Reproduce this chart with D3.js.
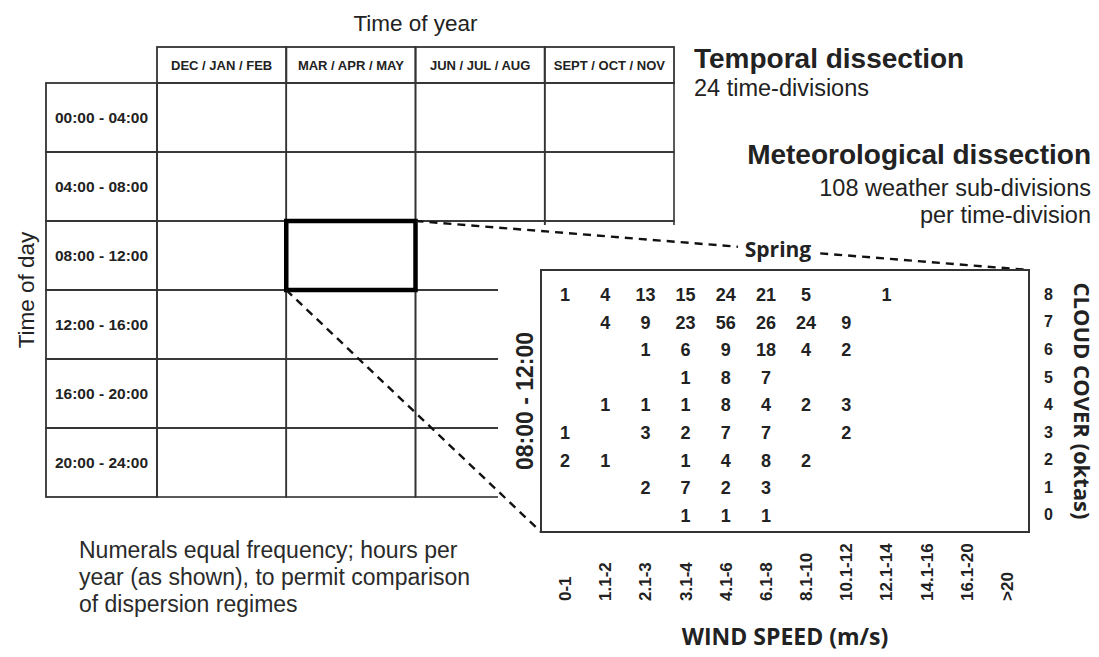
<!DOCTYPE html>
<html>
<head>
<meta charset="utf-8">
<script src="https://cdn.jsdelivr.net/npm/d3@7"></script>
<style>
  body { margin: 0; background: #fff; }
  svg { display: block; }
  text { fill: #222; }
</style>
</head>
<body>
<div id="chart"></div>
<script>
// season columns and time-of-day rows of the overview grid
const seasons = ["DEC / JAN / FEB", "MAR / APR / MAY", "JUN / JUL / AUG", "SEPT / OCT / NOV"];
const timesOfDay = ["00:00 - 04:00", "04:00 - 08:00", "08:00 - 12:00", "12:00 - 16:00", "16:00 - 20:00", "20:00 - 24:00"];
const selectedSeason = "MAR / APR / MAY";
const selectedTime = "08:00 - 12:00";

// detail panel: wind speed classes (m/s) and cloud cover (oktas)
const windSpeeds = ["0-1", "1.1-2", "2.1-3", "3.1-4", "4.1-6", "6.1-8", "8.1-10", "10.1-12", "12.1-14", "14.1-16", "16.1-20", ">20"];
const cloudCover = [8, 7, 6, 5, 4, 3, 2, 1, 0];

// hours per year, one list per cloud cover row (top = 8 oktas), null = empty
const hours8 = [1, 4, 13, 15, 24, 21, 5, null, 1, null, null, null];
const hours7 = [null, 4, 9, 23, 56, 26, 24, 9, null, null, null, null];
const hours6 = [null, null, 1, 6, 9, 18, 4, 2, null, null, null, null];
const hours5 = [null, null, null, 1, 8, 7, null, null, null, null, null, null];
const hours4 = [null, 1, 1, 1, 8, 4, 2, 3, null, null, null, null];
const hours3 = [1, null, 3, 2, 7, 7, null, 2, null, null, null, null];
const hours2 = [2, 1, null, 1, 4, 8, 2, null, null, null, null, null];
const hours1 = [null, null, 2, 7, 2, 3, null, null, null, null, null, null];
const hours0 = [null, null, null, 1, 1, 1, null, null, null, null, null, null];
const hoursByCloud = [hours8, hours7, hours6, hours5, hours4, hours3, hours2, hours1, hours0];

const W = 1099, H = 657;
const lineCol = "#333";
const sans = "'Liberation Sans', Arial, sans-serif";
const open = "'Open Sans', sans-serif";

const svg = d3.select("#chart").append("svg")
  .attr("width", W)
  .attr("height", H);

/** overview grid */
const xSeason = d3.scaleBand().domain(seasons).range([157, 674]);
const yTime = d3.scaleBand().domain(timesOfDay).range([83, 497]);
const headTop = 47, labelLeft = 46;

const grid = svg.append("g").attr("id", "grid");

// header cells
grid.selectAll("rect.head")
  .data(seasons)
  .enter()
  .append("rect")
  .attr("class", "head")
  .attr("x", d => xSeason(d))
  .attr("y", headTop)
  .attr("width", xSeason.bandwidth())
  .attr("height", yTime.range()[0] - headTop)
  .attr("fill", "none")
  .attr("stroke", lineCol)
  .attr("stroke-width", 1.8);

grid.selectAll("text.head")
  .data(seasons)
  .enter()
  .append("text")
  .attr("x", d => xSeason(d) + xSeason.bandwidth() / 2)
  .attr("y", (headTop + yTime.range()[0]) / 2)
  .attr("dy", "0.35em")
  .style("text-anchor", "middle")
  .style("font-family", sans)
  .style("font-weight", "bold")
  .style("font-size", "13px")
  .text(d => d);

// body cells
timesOfDay.forEach(t => {
  grid.append("rect")
    .attr("x", labelLeft)
    .attr("y", yTime(t))
    .attr("width", xSeason.range()[0] - labelLeft)
    .attr("height", yTime.bandwidth())
    .attr("fill", "none")
    .attr("stroke", lineCol)
    .attr("stroke-width", 1.8);
  grid.append("text")
    .attr("x", (labelLeft + xSeason.range()[0]) / 2)
    .attr("y", yTime(t) + yTime.bandwidth() / 2)
    .attr("dy", "0.35em")
    .style("text-anchor", "middle")
    .style("font-family", sans)
    .style("font-weight", "bold")
    .style("font-size", "15.5px")
    .text(t);
  seasons.forEach(s => {
    grid.append("rect")
      .attr("x", xSeason(s))
      .attr("y", yTime(t))
      .attr("width", xSeason.bandwidth())
      .attr("height", yTime.bandwidth())
      .attr("fill", "none")
      .attr("stroke", lineCol)
      .attr("stroke-width", 1.6);
  });
});

// axis titles of the grid
svg.append("text")
  .attr("x", (xSeason.range()[0] + xSeason.range()[1]) / 2)
  .attr("y", 31)
  .style("text-anchor", "middle")
  .style("font-family", sans)
  .style("font-size", "22.5px")
  .text("Time of year");

svg.append("text")
  .attr("x", 34)
  .attr("y", (yTime.range()[0] + yTime.range()[1]) / 2)
  .attr("transform", "rotate(-90 34 " + ((yTime.range()[0] + yTime.range()[1]) / 2) + ")")
  .style("text-anchor", "middle")
  .style("font-family", sans)
  .style("font-size", "22.5px")
  .text("Time of day");

// white panel that hides the right part of the lower grid
svg.append("rect")
  .attr("x", 498)
  .attr("y", 225)
  .attr("width", W - 498)
  .attr("height", H - 225)
  .attr("fill", "#fff");

// highlighted cell
const hx = xSeason(selectedSeason), hy = yTime(selectedTime);
svg.append("rect")
  .attr("x", hx)
  .attr("y", hy)
  .attr("width", xSeason.bandwidth())
  .attr("height", yTime.bandwidth())
  .attr("fill", "none")
  .attr("stroke", "#000")
  .attr("stroke-width", 4.5);

/** detail panel */
const box = {left: 541, right: 1029, top: 270, bottom: 532};
const xWind = d3.scaleBand().domain(windSpeeds).range([545, 1027]);
const yCloud = d3.scaleBand().domain(cloudCover).range([281, 529]);

// dashed zoom lines
const dash = svg.append("g")
  .attr("stroke", "#111")
  .attr("stroke-width", 2.4)
  .attr("stroke-dasharray", "8,6");
dash.append("line")
  .attr("x1", hx + xSeason.bandwidth()).attr("y1", hy)
  .attr("x2", box.right).attr("y2", box.top);
dash.append("line")
  .attr("x1", hx).attr("y1", hy + yTime.bandwidth())
  .attr("x2", box.left).attr("y2", box.bottom);

// Spring label sitting on the upper dashed line
const springX = 778;
const springY = hy + (box.top - hy) * (springX - hx - xSeason.bandwidth()) / (box.right - hx - xSeason.bandwidth());
svg.append("rect")
  .attr("x", springX - 40)
  .attr("y", springY - 14)
  .attr("width", 80)
  .attr("height", 26)
  .attr("fill", "#fff");
svg.append("text")
  .attr("x", springX)
  .attr("y", springY)
  .attr("dy", "0.32em")
  .style("text-anchor", "middle")
  .style("font-family", open)
  .style("font-weight", "bold")
  .style("font-size", "21px")
  .text("Spring");

svg.append("rect")
  .attr("x", box.left)
  .attr("y", box.top)
  .attr("width", box.right - box.left)
  .attr("height", box.bottom - box.top)
  .attr("fill", "#fff")
  .attr("stroke", lineCol)
  .attr("stroke-width", 2);

// frequency numerals
const cells = [];
hoursByCloud.forEach((row, i) => {
  row.forEach((v, j) => {
    if (v !== null) cells.push({cloud: cloudCover[i], wind: windSpeeds[j], v: v});
  });
});

svg.append("g")
  .selectAll("text")
  .data(cells)
  .enter()
  .append("text")
  .attr("x", d => xWind(d.wind) + xWind.bandwidth() / 2)
  .attr("y", d => yCloud(d.cloud) + yCloud.bandwidth() / 2)
  .attr("dy", "0.36em")
  .style("text-anchor", "middle")
  .style("font-family", sans)
  .style("font-weight", "bold")
  .style("font-size", "18px")
  .text(d => d.v);

// wind speed axis
const xAxis = svg.append("g")
  .attr("transform", "translate(0,601)")
  .call(d3.axisBottom(xWind).tickSize(0));
xAxis.select(".domain").remove();
xAxis.selectAll("text")
  .attr("x", 0)
  .attr("y", 0)
  .attr("dy", "0.35em")
  .attr("transform", "rotate(-90)")
  .style("text-anchor", "start")
  .style("font-family", sans)
  .style("font-weight", "bold")
  .style("font-size", "17px")
  .style("fill", "#222");

// cloud cover axis
const yAxis = svg.append("g")
  .attr("transform", "translate(1044,0)")
  .call(d3.axisRight(yCloud).tickSize(0));
yAxis.select(".domain").remove();
yAxis.selectAll("text")
  .attr("x", 0)
  .style("font-family", sans)
  .style("font-weight", "bold")
  .style("font-size", "16px")
  .style("fill", "#222");

svg.append("text")
  .attr("x", (box.left + box.right) / 2)
  .attr("y", 645)
  .style("text-anchor", "middle")
  .style("font-family", open)
  .style("font-weight", "bold")
  .style("font-size", "23px")
  .text("WIND SPEED (m/s)");

const ccY = (box.top + box.bottom) / 2;
svg.append("text")
  .attr("x", 1074)
  .attr("y", ccY)
  .attr("transform", "rotate(90 1074 " + ccY + ")")
  .style("text-anchor", "middle")
  .style("font-family", open)
  .style("font-weight", "bold")
  .style("font-size", "22px")
  .text("CLOUD COVER (oktas)");

svg.append("text")
  .attr("x", 533)
  .attr("y", ccY)
  .attr("transform", "rotate(-90 533 " + ccY + ")")
  .style("text-anchor", "middle")
  .style("font-family", sans)
  .style("font-weight", "bold")
  .style("font-size", "23px")
  .text(selectedTime);

/** side notes */
svg.append("text")
  .attr("x", 694).attr("y", 68)
  .style("font-family", sans).style("font-weight", "bold").style("font-size", "28px")
  .text("Temporal dissection");
svg.append("text")
  .attr("x", 694).attr("y", 96)
  .style("font-family", sans).style("font-size", "23.5px")
  .text("24 time-divisions");

const notes = [
  {t: "Meteorological dissection", y: 164, bold: true},
  {t: "108 weather sub-divisions", y: 196, bold: false},
  {t: "per time-division", y: 223, bold: false}
];
svg.selectAll("text.note")
  .data(notes)
  .enter()
  .append("text")
  .attr("class", "note")
  .attr("x", 1091)
  .attr("y", d => d.y)
  .style("text-anchor", "end")
  .style("font-family", sans)
  .style("font-weight", d => d.bold ? "bold" : "normal")
  .style("font-size", d => d.bold ? "28px" : "23.5px")
  .text(d => d.t);

const foot = ["Numerals equal frequency; hours per", "year (as shown), to permit comparison", "of dispersion regimes"];
svg.selectAll("text.foot")
  .data(foot)
  .enter()
  .append("text")
  .attr("class", "foot")
  .attr("x", 79)
  .attr("y", (d, i) => 558 + i * 27)
  .style("font-family", sans)
  .style("font-size", "23px")
  .style("fill", "#2a2a2a")
  .text(d => d);
</script>
</body>
</html>
